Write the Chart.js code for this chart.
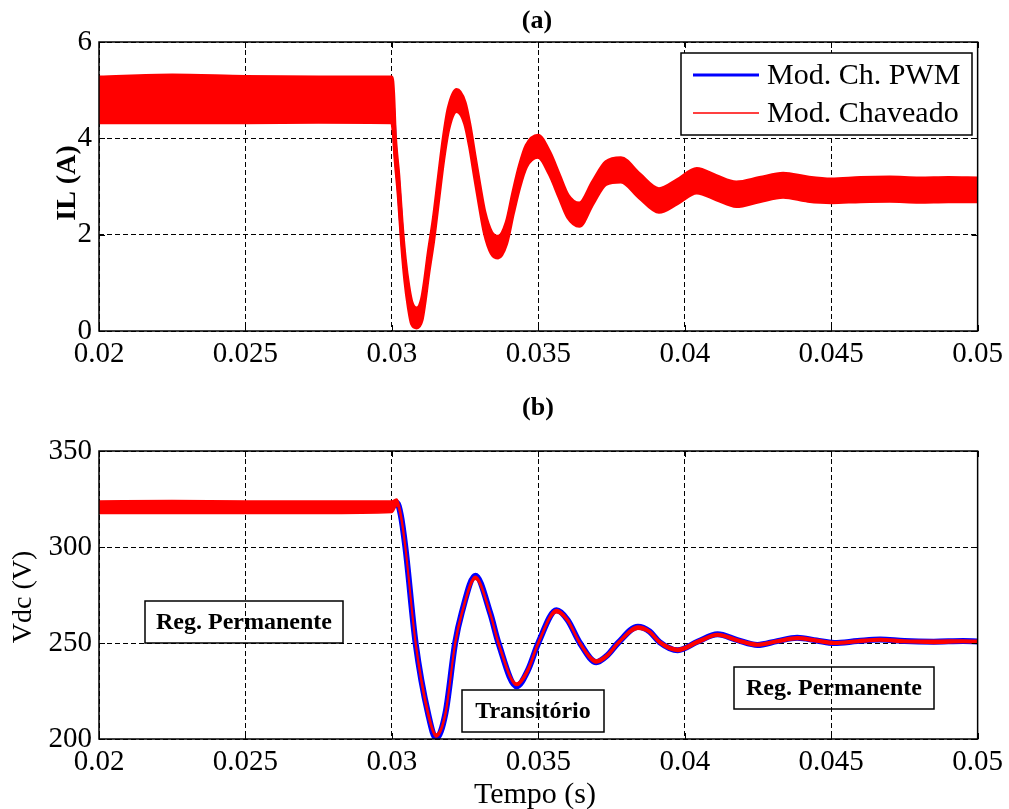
<!DOCTYPE html>
<html>
<head>
<meta charset="utf-8">
<script src="https://cdn.jsdelivr.net/npm/chart.js@4.4.1/dist/chart.umd.min.js"></script>
<style>
  body { margin: 0; background: #fff; }
  #wrap { position: relative; width: 1009px; height: 809px; background: #fff; }
  canvas { position: absolute; left: 0; }
  #ilChart { top: 0; }
  #vdcChart { top: 390px; }
</style>
</head>
<body>
<div id="wrap">
  <canvas id="ilChart" width="1009" height="390"></canvas>
  <canvas id="vdcChart" width="1009" height="419"></canvas>
</div>
<script>
// ---- (a) inductor current ----
const tA = [0.0200, 0.0225, 0.0250, 0.0275, 0.0300, 0.03005, 0.03011, 0.03023, 0.03034, 0.03045,
            0.03057, 0.03068, 0.03085, 0.03102, 0.03113, 0.03125, 0.03142, 0.03159, 0.03176, 0.03193,
            0.03221, 0.03249, 0.03266, 0.03283, 0.03300, 0.03317, 0.03340, 0.03363, 0.03391, 0.03414,
            0.03436, 0.03459, 0.03499, 0.03538, 0.03572, 0.03601, 0.03640, 0.03686, 0.03731, 0.03782,
            0.03845, 0.03912, 0.03975, 0.04041, 0.04108, 0.04176, 0.04255, 0.04336, 0.04420, 0.04500,
            0.04600, 0.04700, 0.04800, 0.04900, 0.05000];
// averaged model (blue)
const ilPwm = [4.80, 4.82, 4.80, 4.80, 4.80, 4.55, 3.84, 3.00, 2.03, 1.27,
               0.71, 0.37, 0.26, 0.44, 0.85, 1.41, 2.10, 2.94, 3.77, 4.40,
               4.78, 4.53, 4.05, 3.42, 2.80, 2.24, 1.83, 1.74, 2.03, 2.66,
               3.21, 3.63, 3.84, 3.49, 3.00, 2.59, 2.42, 2.87, 3.28, 3.35,
               3.02, 2.71, 2.90, 3.12, 2.98, 2.84, 2.94, 3.03, 2.95, 2.91,
               2.94, 2.95, 2.93, 2.94, 2.93];
// switched model (red) ripple band: top and bottom
const ilSwUp = [5.27, 5.31, 5.28, 5.27, 5.27, 4.95, 4.06, 3.22, 2.25, 1.49,
                0.93, 0.59, 0.47, 0.66, 1.07, 1.63, 2.32, 3.16, 3.99, 4.62,
                5.01, 4.75, 4.27, 3.64, 3.02, 2.46, 2.05, 1.96, 2.25, 2.88,
                3.43, 3.85, 4.06, 3.72, 3.23, 2.82, 2.65, 3.10, 3.51, 3.59,
                3.26, 2.95, 3.14, 3.37, 3.22, 3.09, 3.18, 3.27, 3.19, 3.15,
                3.18, 3.19, 3.17, 3.18, 3.17];
const ilSwLow = [4.33, 4.33, 4.33, 4.34, 4.33, 4.15, 3.62, 2.78, 1.81, 1.05,
                 0.49, 0.15, 0.07, 0.22, 0.63, 1.19, 1.88, 2.72, 3.55, 4.18,
                 4.56, 4.31, 3.83, 3.20, 2.58, 2.02, 1.61, 1.52, 1.81, 2.44,
                 2.99, 3.41, 3.61, 3.26, 2.77, 2.36, 2.18, 2.64, 3.05, 3.10,
                 2.77, 2.47, 2.65, 2.87, 2.73, 2.59, 2.69, 2.78, 2.70, 2.67,
                 2.69, 2.70, 2.68, 2.69, 2.69];

// ---- (b) dc link voltage ----
const tB = [0.0200, 0.0225, 0.0250, 0.0275, 0.0300, 0.03017, 0.03030, 0.03046, 0.03081, 0.03124,
            0.03151, 0.03183, 0.03216, 0.03239, 0.03285, 0.03336, 0.03364, 0.03426, 0.03465, 0.03500,
            0.03562, 0.03600, 0.03642, 0.03698, 0.03735, 0.03772, 0.03840, 0.03880, 0.03914, 0.03976,
            0.04045, 0.04112, 0.04180, 0.04248, 0.04316, 0.04384, 0.04450, 0.04510, 0.04590, 0.04667,
            0.04750, 0.04850, 0.04950, 0.05000];
const vdcPwm = [320.5, 320.5, 320.5, 320.5, 320.7, 323.0, 317.0, 300.0, 250.0, 213.0,
                200.3, 213.5, 250.0, 266.0, 285.0, 265.5, 250.0, 227.5, 236.0, 250.0,
                267.0, 262.0, 250.0, 240.0, 243.5, 250.0, 258.5, 256.0, 250.5, 246.2,
                250.8, 254.5, 251.5, 249.0, 251.0, 252.7, 251.3, 250.0, 251.0, 251.8,
                251.0, 250.7, 251.0, 250.8];
const vdcSwUp = [324.0, 324.2, 324.0, 324.0, 324.0, 325.0, 318.5, 301.5, 251.5, 214.5,
                 202.6, 214.5, 251.0, 266.5, 284.8, 266.0, 250.8, 229.2, 237.0, 250.8,
                 267.4, 262.6, 250.6, 241.2, 244.2, 250.6, 258.8, 256.6, 251.2, 247.2,
                 251.4, 255.0, 252.1, 249.8, 251.6, 253.2, 251.9, 250.7, 251.6, 252.4,
                 251.6, 251.4, 251.6, 251.4];
const vdcSwLow = [317.5, 317.4, 317.5, 317.5, 318.0, 321.5, 315.5, 298.5, 248.5, 211.5,
                  201.0, 212.0, 248.5, 264.5, 283.2, 264.5, 249.0, 227.8, 235.0, 249.2,
                  265.8, 261.2, 249.2, 239.6, 242.6, 249.2, 257.2, 255.2, 249.6, 245.6,
                  249.8, 253.6, 250.7, 248.4, 250.2, 251.8, 250.5, 249.3, 250.2, 251.0,
                  250.2, 249.8, 250.2, 250.0];

const legendNames = ['Mod. Ch. PWM', 'Mod. Chaveado'];

const SERIF = '"Liberation Serif", "DejaVu Serif", serif';
const BLUE = '#0000ff';
const RED = '#ff0000';

function toPoints(xs, ys) {
    return xs.map((x, i) => ({ x: x, y: ys[i] }));
}

// frame, inward ticks, titles, legend and text boxes
const decorPlugin = {
    id: 'decor',
    afterDraw(chart, args, o) {
        const ctx = chart.ctx;
        const a = chart.chartArea;
        const xs = chart.scales.x;
        const ys = chart.scales.y;
        ctx.save();
        ctx.strokeStyle = '#000';
        ctx.lineWidth = 1;
        ctx.setLineDash([]);
        ctx.beginPath();
        xs.ticks.forEach(t => {
            const px = Math.round(xs.getPixelForValue(t.value)) + 0.5;
            ctx.moveTo(px, a.bottom); ctx.lineTo(px, a.bottom - 6);
            ctx.moveTo(px, a.top); ctx.lineTo(px, a.top + 6);
        });
        ys.ticks.forEach(t => {
            const py = Math.round(ys.getPixelForValue(t.value)) + 0.5;
            ctx.moveTo(a.left, py); ctx.lineTo(a.left + 6, py);
            ctx.moveTo(a.right, py); ctx.lineTo(a.right - 6, py);
        });
        ctx.stroke();
        ctx.lineWidth = 1.5;
        ctx.strokeRect(a.left, a.top, a.right - a.left, a.bottom - a.top);

        ctx.fillStyle = '#000';
        ctx.textAlign = 'center';
        ctx.textBaseline = 'middle';
        ctx.font = 'bold 26px ' + SERIF;
        ctx.fillText(o.title, o.titleX, o.titleY);

        if (o.xTitle) {
            ctx.font = '30px ' + SERIF;
            ctx.fillText(o.xTitle, o.xTitleX, o.xTitleY);
        }

        ctx.save();
        ctx.translate(o.yTitleX, o.yTitleY);
        ctx.rotate(-Math.PI / 2);
        ctx.font = o.yTitleFont;
        ctx.fillText(o.yTitle, 0, 0);
        ctx.restore();

        if (o.legend) {
            const L = o.legend;
            ctx.fillStyle = '#fff';
            ctx.fillRect(L.left, L.top, L.width, L.height);
            ctx.lineWidth = 1.5;
            ctx.strokeStyle = '#000';
            ctx.strokeRect(L.left, L.top, L.width, L.height);
            L.items.forEach(it => {
                ctx.strokeStyle = it.color;
                ctx.lineWidth = it.width;
                ctx.beginPath();
                ctx.moveTo(L.left + 12, it.y);
                ctx.lineTo(L.left + 78, it.y);
                ctx.stroke();
                ctx.fillStyle = '#000';
                ctx.textAlign = 'left';
                ctx.font = '30px ' + SERIF;
                ctx.fillText(it.text, L.left + 86, it.y + 1);
            });
        }

        (o.boxes || []).forEach(b => {
            ctx.strokeStyle = '#000';
            ctx.lineWidth = 1.5;
            ctx.strokeRect(b.left, b.top, b.width, b.height);
            ctx.fillStyle = '#000';
            ctx.textAlign = 'center';
            ctx.font = 'bold 24px ' + SERIF;
            ctx.fillText(b.text, b.left + b.width / 2, b.top + b.height / 2 + 1);
        });
        ctx.restore();
    }
};

function makeScales(yMin, yMax, yStep, xHeight) {
    return {
        x: {
            type: 'linear',
            min: 0.02,
            max: 0.05,
            afterFit: s => { s.height = xHeight; },
            grid: { color: '#000', lineWidth: 1, drawTicks: false },
            border: { display: false, dash: [5, 3] },
            ticks: {
                stepSize: 0.005,
                autoSkip: false,
                maxRotation: 0,
                padding: 6,
                color: '#000',
                font: { family: SERIF, size: 29 },
                callback: v => Number(v.toFixed(3)).toString()
            }
        },
        y: {
            min: yMin,
            max: yMax,
            afterFit: s => { s.width = 99; },
            grid: { color: '#000', lineWidth: 1, drawTicks: false },
            border: { display: false, dash: [5, 3] },
            ticks: {
                stepSize: yStep,
                padding: 7,
                color: '#000',
                font: { family: SERIF, size: 29 }
            }
        }
    };
}

function bandSets(xs, up, low, pwm, redWidth, blueWidth) {
    return [
        {
            label: legendNames[1],
            data: toPoints(xs, up),
            borderColor: RED,
            backgroundColor: RED,
            borderWidth: redWidth,
            fill: '+1',
            pointRadius: 0,
            cubicInterpolationMode: 'monotone',
            order: 0
        },
        {
            label: legendNames[1] + ' (min)',
            data: toPoints(xs, low),
            borderColor: RED,
            borderWidth: redWidth,
            fill: false,
            pointRadius: 0,
            cubicInterpolationMode: 'monotone',
            order: 1
        },
        {
            label: legendNames[0],
            data: toPoints(xs, pwm),
            borderColor: BLUE,
            borderWidth: blueWidth,
            fill: false,
            pointRadius: 0,
            cubicInterpolationMode: 'monotone',
            order: 2
        }
    ];
}

new Chart(document.getElementById('ilChart').getContext('2d'), {
    type: 'line',
    data: { datasets: bandSets(tA, ilSwUp, ilSwLow, ilPwm, 3.5, 4) },
    options: {
        responsive: false,
        animation: false,
        layout: { padding: { top: 42, right: 28, left: 0, bottom: 0 } },
        scales: makeScales(0, 6, 2, 59),
        plugins: {
            legend: { display: false },
            tooltip: { enabled: false },
            decor: {
                title: '(a)', titleX: 537, titleY: 21,
                yTitle: 'IL (A)', yTitleX: 68, yTitleY: 183, yTitleFont: 'bold 28px ' + SERIF,
                legend: {
                    left: 681, top: 53, width: 291, height: 82,
                    items: [
                        { text: legendNames[0], color: BLUE, width: 3, y: 75 },
                        { text: legendNames[1], color: RED, width: 1.5, y: 113 }
                    ]
                }
            }
        }
    },
    plugins: [decorPlugin]
});

new Chart(document.getElementById('vdcChart').getContext('2d'), {
    type: 'line',
    data: { datasets: bandSets(tB, vdcSwUp, vdcSwLow, vdcPwm, 1.5, 6) },
    options: {
        responsive: false,
        animation: false,
        layout: { padding: { top: 61, right: 28, left: 0, bottom: 0 } },
        scales: makeScales(200, 350, 50, 70),
        plugins: {
            legend: { display: false },
            tooltip: { enabled: false },
            decor: {
                title: '(b)', titleX: 538, titleY: 18,
                xTitle: 'Tempo (s)', xTitleX: 535, xTitleY: 405,
                yTitle: 'Vdc (V)', yTitleX: 24, yTitleY: 207, yTitleFont: '28px ' + SERIF,
                boxes: [
                    { text: 'Reg. Permanente', left: 145, top: 211, width: 198, height: 42 },
                    { text: 'Transitório', left: 462, top: 300, width: 142, height: 42 },
                    { text: 'Reg. Permanente', left: 734, top: 277, width: 200, height: 42 }
                ]
            }
        }
    },
    plugins: [decorPlugin]
});
</script>
</body>
</html>
